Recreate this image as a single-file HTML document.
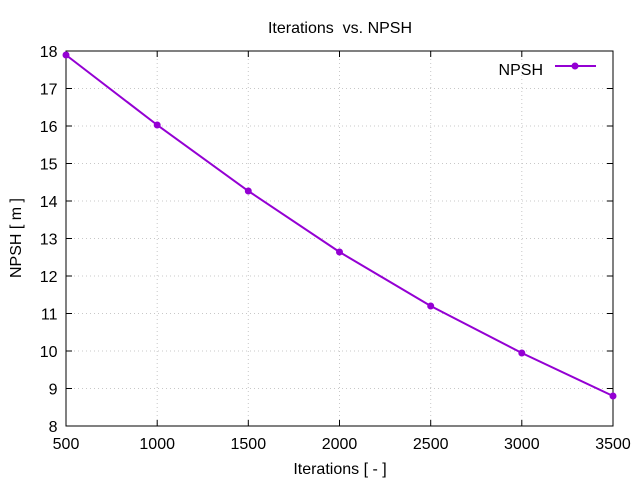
<!DOCTYPE html>
<html><head><style>body{margin:0;background:#fff}svg{display:block}text{font-family:"Liberation Sans",sans-serif;font-size:16px;fill:#000}</style></head><body>
<svg width="640" height="480" viewBox="0 0 640 480">
<g stroke="#c8c8c8" stroke-width="1" stroke-dasharray="1,3">
<line x1="66" y1="88.5" x2="613" y2="88.5"/><line x1="66" y1="126" x2="613" y2="126"/><line x1="66" y1="163.5" x2="613" y2="163.5"/><line x1="66" y1="201" x2="613" y2="201"/><line x1="66" y1="238.5" x2="613" y2="238.5"/><line x1="66" y1="276" x2="613" y2="276"/><line x1="66" y1="313.5" x2="613" y2="313.5"/><line x1="66" y1="351" x2="613" y2="351"/><line x1="66" y1="388.5" x2="613" y2="388.5"/>
<line x1="157.2" y1="51" x2="157.2" y2="426"/><line x1="248.3" y1="51" x2="248.3" y2="426"/><line x1="339.5" y1="51" x2="339.5" y2="426"/><line x1="430.7" y1="51" x2="430.7" y2="426"/><line x1="521.8" y1="51" x2="521.8" y2="426"/>
</g>
<rect x="66" y="51" width="547" height="375" fill="none" stroke="#000" stroke-width="1"/>
<g stroke="#000">
<line x1="66" y1="88.5" x2="72" y2="88.5"/><line x1="66" y1="126" x2="72" y2="126"/><line x1="66" y1="163.5" x2="72" y2="163.5"/><line x1="66" y1="201" x2="72" y2="201"/><line x1="66" y1="238.5" x2="72" y2="238.5"/><line x1="66" y1="276" x2="72" y2="276"/><line x1="66" y1="313.5" x2="72" y2="313.5"/><line x1="66" y1="351" x2="72" y2="351"/><line x1="66" y1="388.5" x2="72" y2="388.5"/>
<line x1="613" y1="88.5" x2="607" y2="88.5"/><line x1="613" y1="126" x2="607" y2="126"/><line x1="613" y1="163.5" x2="607" y2="163.5"/><line x1="613" y1="201" x2="607" y2="201"/><line x1="613" y1="238.5" x2="607" y2="238.5"/><line x1="613" y1="276" x2="607" y2="276"/><line x1="613" y1="313.5" x2="607" y2="313.5"/><line x1="613" y1="351" x2="607" y2="351"/><line x1="613" y1="388.5" x2="607" y2="388.5"/>
<line x1="157.2" y1="426" x2="157.2" y2="420"/><line x1="248.3" y1="426" x2="248.3" y2="420"/><line x1="339.5" y1="426" x2="339.5" y2="420"/><line x1="430.7" y1="426" x2="430.7" y2="420"/><line x1="521.8" y1="426" x2="521.8" y2="420"/>
<line x1="157.2" y1="51" x2="157.2" y2="57"/><line x1="248.3" y1="51" x2="248.3" y2="57"/><line x1="339.5" y1="51" x2="339.5" y2="57"/><line x1="430.7" y1="51" x2="430.7" y2="57"/><line x1="521.8" y1="51" x2="521.8" y2="57"/>
</g>
<g text-anchor="end">
<text x="57.5" y="57">18</text><text x="57.5" y="94.5">17</text><text x="57.5" y="132">16</text><text x="57.5" y="169.5">15</text><text x="57.5" y="207">14</text><text x="57.5" y="244.5">13</text><text x="57.5" y="282">12</text><text x="57.5" y="319.5">11</text><text x="57.5" y="357">10</text><text x="57.5" y="394.5">9</text><text x="57.5" y="432">8</text>
</g>
<g text-anchor="middle">
<text x="66" y="449">500</text><text x="157.2" y="449">1000</text><text x="248.3" y="449">1500</text><text x="339.5" y="449">2000</text><text x="430.7" y="449">2500</text><text x="521.8" y="449">3000</text><text x="613" y="449">3500</text>
<text x="340" y="474">Iterations [ - ]</text>
<text x="340" y="33" xml:space="preserve">Iterations  vs. NPSH</text>
<text transform="translate(21,238) rotate(-90)">NPSH [ m ]</text>
</g>
<text x="543" y="75" text-anchor="end">NPSH</text>
<g stroke="#9400d3" stroke-width="2" fill="#9400d3">
<line x1="555" y1="66" x2="596" y2="66"/><circle cx="575" cy="66" r="3.5" stroke="none"/>
<polyline fill="none" points="66,55 157.2,125 248.3,191 339.5,252 430.7,306 521.8,353 613,396"/>
<g stroke="none"><circle cx="66" cy="55" r="3.5"/><circle cx="157.2" cy="125" r="3.5"/><circle cx="248.3" cy="191" r="3.5"/><circle cx="339.5" cy="252" r="3.5"/><circle cx="430.7" cy="306" r="3.5"/><circle cx="521.8" cy="353" r="3.5"/><circle cx="613" cy="396" r="3.5"/></g>
</g>
</svg></body></html>
